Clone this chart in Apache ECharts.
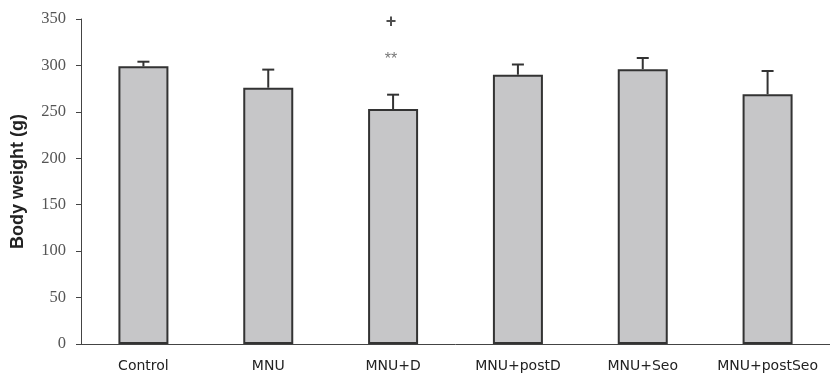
<!DOCTYPE html>
<html><head><meta charset="utf-8">
<script src="https://cdn.jsdelivr.net/npm/echarts@6/dist/echarts.min.js"></script>
<style>html,body{margin:0;padding:0;background:#fff}#c{width:830px;height:374px}</style>
</head><body><div id="c"></div>
<script>
var categories = ["Control", "MNU", "MNU+D", "MNU+postD", "MNU+Seo", "MNU+postSeo"];
var means = [299, 276, 253, 290, 296, 269];
var errors = [5, 19.5, 15.5, 11, 12, 25];
var yTicks = [0, 50, 100, 150, 200, 250, 300, 350];
var annotations = [
  {category: "MNU+D", value: 306, text: "**", color: "#555", size: 16, weight: "normal"},
  {category: "MNU+D", value: 347, text: "+", color: "#222", size: 18, weight: "bold"}
];

var chart = echarts.init(document.getElementById('c'));
var errData = categories.map(function(c, i){ return [i, means[i], means[i] + errors[i]]; });
chart.setOption({
  animation: false,
  grid: {left: 81, right: 0, top: 19, bottom: 30, containLabel: false},
  xAxis: {
    type: 'category', data: categories,
    axisLine: {lineStyle: {color: '#444', width: 1}},
    axisTick: {show: false},
    axisLabel: {interval: 0, hideOverlap: false, color: '#222', fontFamily: 'DejaVu Sans, sans-serif', fontSize: 14, margin: 15}
  },
  yAxis: {
    type: 'value', min: yTicks[0], max: yTicks[yTicks.length - 1], interval: 50,
    name: 'Body weight (g)', nameLocation: 'middle', nameGap: 54,
    nameTextStyle: {color: '#222', fontFamily: 'Liberation Sans, Arial, sans-serif', fontWeight: 'bold', fontSize: 18},
    axisLine: {show: true, lineStyle: {color: '#444', width: 1}},
    axisTick: {show: true, length: 5, lineStyle: {color: '#444'}},
    splitLine: {show: false},
    axisLabel: {color: '#555', fontFamily: 'Liberation Serif, Times New Roman, serif', fontSize: 16.5, margin: 15}
  },
  series: [
    {
      type: 'bar', data: means, barWidth: 50,
      itemStyle: {color: '#c6c6c8', borderColor: '#333', borderWidth: 2}
    },
    {
      type: 'custom', data: errData, z: 1,
      renderItem: function(params, api){
        var base = api.coord([api.value(0), api.value(1)]);
        var top = api.coord([api.value(0), api.value(2)]);
        var w = 6;
        return {type: 'group', children: [
          {type: 'line', shape: {x1: base[0], y1: base[1], x2: top[0], y2: top[1]}, style: {stroke: '#333', lineWidth: 2}},
          {type: 'line', shape: {x1: top[0] - w, y1: top[1], x2: top[0] + w, y2: top[1]}, style: {stroke: '#333', lineWidth: 2}}
        ]};
      }
    },
    {
      type: 'scatter', symbolSize: 0,
      data: annotations.map(function(a){
        return {value: [a.category, a.value], name: a.text,
          label: {color: a.color, fontSize: a.size, fontWeight: a.weight}};
      }),
      label: {show: true, position: 'inside', offset: [-2, 0], formatter: function(p){ return p.name; },
        fontFamily: 'Liberation Sans, Arial, sans-serif'}
    }
  ]
});
</script></body></html>
